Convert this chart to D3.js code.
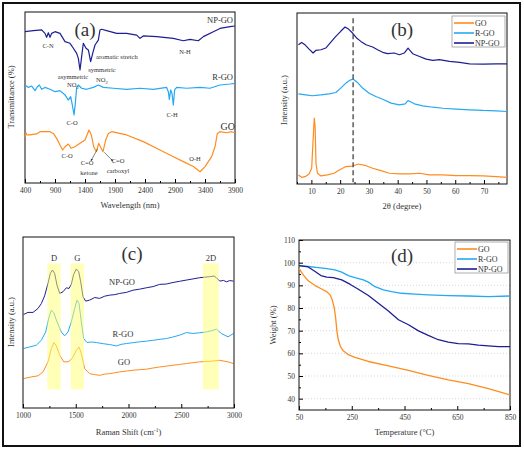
<!DOCTYPE html>
<html><head><meta charset="utf-8">
<script src="https://cdn.jsdelivr.net/npm/d3@7"></script>
<style>body{margin:0;background:#fff}svg{display:block}text{font-family:"Liberation Serif","Times New Roman",serif;fill:#333}</style>
</head><body><svg id="c" width="524" height="450"></svg>
<script>
// ---------- DATA ----------
const seriesNames = ["GO", "R-GO", "NP-GO"];
const colors = {"GO":"#ff8c1e","R-GO":"#25a9f2","NP-GO":"#1d1f91"};

// (a) FTIR : wavelength, transmittance (arb.)
const ftirNP = [[400,88.5],[539,89.1],[678,89.5],[733,87.5],[761,85.2],[789,87.9],[817,85.2],[844,87.5],[900,88.5],[983,87.5],[1067,82.7],[1150,81.7],[1206,78.8],[1261,75.8],[1289,72.9],[1317,66.1],[1344,73.9],[1372,81.7],[1417,78.8],[1456,77.8],[1494,71.0],[1528,75.8],[1567,80.7],[1622,83.6],[1650,89.5],[1678,89.9],[1761,89.1],[1928,87.5],[2094,87.5],[2261,86.5],[2317,84.6],[2372,86.0],[2594,85.6],[2872,84.6],[3039,83.2],[3150,84.0],[3289,83.2],[3372,85.6],[3539,88.5],[3650,90.4],[3817,91.4],[3900,91.8]];
const ftirR = [[400,57.3],[456,55.9],[511,56.7],[567,54.0],[606,56.3],[639,57.3],[678,54.8],[733,55.9],[817,54.8],[900,53.4],[983,54.0],[1067,51.5],[1122,48.5],[1161,50.5],[1194,44.6],[1217,39.8],[1239,46.6],[1261,55.9],[1289,57.3],[1344,55.4],[1428,54.8],[1539,55.9],[1622,57.3],[1706,55.9],[1872,55.4],[2094,54.8],[2317,55.4],[2539,54.8],[2761,55.9],[2789,53.4],[2806,48.9],[2828,54.4],[2850,52.4],[2872,45.6],[2894,54.4],[2928,55.9],[3094,55.4],[3317,55.9],[3483,55.4],[3650,57.3],[3817,57.9],[3900,58.3]];
const ftirGO = [[400,27.1],[417,29.4],[428,28.1],[483,28.1],[594,28.7],[650,30.0],[817,30.0],[872,29.0],[928,26.1],[983,22.2],[1028,19.3],[1067,21.2],[1122,22.8],[1167,20.3],[1233,21.2],[1317,23.2],[1400,25.1],[1467,31.0],[1506,28.1],[1545,21.2],[1589,18.3],[1628,23.2],[1656,21.2],[1700,18.3],[1745,25.1],[1789,29.0],[1844,30.0],[2094,28.1],[2372,24.2],[2650,19.3],[2872,15.4],[3039,12.5],[3206,9.6],[3317,6.6],[3400,9.6],[3511,15.4],[3567,21.2],[3606,29.0],[3650,30.0],[3761,29.4],[3844,30.0],[3900,29.4]];
const ftirTicks = [400,900,1400,1900,2400,2900,3400,3900];

// (b) XRD : 2theta, intensity (arb.)
const xrdNP = [[5.5,81.4],[6.6,82.8],[7.8,81.4],[9.2,78.9],[10.6,76.6],[11.5,78.1],[13.3,78.5],[15.0,79.5],[16.7,82.8],[18.5,86.3],[20.2,89.3],[21.7,91.8],[22.9,90.6],[24.3,88.3],[25.7,85.4],[27.2,83.4],[29.0,81.4],[31.3,80.1],[33.0,78.5],[34.8,77.0],[36.5,76.2],[38.8,76.6],[40.6,75.6],[42.3,76.6],[43.6,79.5],[45.2,76.2],[47.6,74.6],[49.9,73.0],[52.2,72.3],[54.5,72.7],[58.0,71.7],[61.5,71.1],[65.0,70.3],[69.7,70.1],[74.3,70.3],[78.0,70.3]];
const xrdR = [[5.5,52.7],[8.0,52.1],[10.3,51.6],[13.3,52.1],[16.2,52.7],[18.5,53.5],[20.2,56.1],[22.0,59.0],[23.7,60.9],[24.6,61.3],[26.0,59.4],[27.8,56.1],[30.1,53.1],[32.4,51.2],[34.8,49.6],[37.7,47.3],[40.6,46.3],[42.6,46.9],[43.6,48.8],[45.8,46.9],[48.7,45.7],[52.2,44.9],[55.7,44.3],[60.3,43.8],[65.0,43.4],[69.7,43.0],[74.3,42.8],[78.0,42.4]];
const xrdGO = [[5.5,5.3],[6.6,3.9],[7.8,4.3],[9.2,5.9],[10.1,9.2],[10.6,25.8],[11.0,38.5],[11.3,33.6],[11.6,12.1],[12.1,6.3],[13.3,4.7],[15.6,5.3],[17.9,6.3],[19.7,8.2],[22.0,10.2],[24.3,10.5],[26.3,11.7],[29.0,10.7],[31.3,9.2],[34.2,7.8],[37.1,6.3],[40.6,5.9],[44.1,5.9],[47.6,6.3],[51.0,5.3],[55.7,5.3],[60.3,4.9],[65.0,4.9],[69.7,4.7],[74.3,4.3],[78.0,3.9]];
const xrdTicks = [10,20,30,40,50,60,70];
const xrdDashed = 24.5;

// (c) Raman : shift, intensity (arb.)
const ramanNP = [[1006,54.7],[1047,55.9],[1095,55.9],[1142,58.2],[1174,61.1],[1205,65.6],[1237,72.9],[1259,78.7],[1280,80.7],[1300,78.7],[1322,71.9],[1348,67.0],[1379,68.0],[1411,70.3],[1436,69.9],[1458,72.3],[1480,78.1],[1506,81.3],[1528,79.7],[1547,73.8],[1569,65.0],[1594,62.5],[1632,63.1],[1680,64.6],[1727,64.1],[1775,65.4],[1822,66.0],[1870,66.3],[1916,67.0],[1980,67.6],[2043,68.9],[2106,69.5],[2169,70.3],[2233,71.0],[2296,72.3],[2359,72.5],[2422,73.4],[2485,74.1],[2548,74.8],[2612,75.5],[2675,76.2],[2720,76.5],[2770,76.8],[2810,77.2],[2833,76.2],[2865,74.2],[2900,74.6],[2928,73.8],[2960,74.5],[2995,74.2]];
const ramanR = [[1006,34.8],[1063,35.7],[1126,36.7],[1174,39.6],[1215,44.5],[1247,53.3],[1269,57.2],[1291,55.9],[1322,50.4],[1363,44.5],[1395,42.2],[1427,44.5],[1458,50.4],[1490,58.2],[1512,63.1],[1531,61.1],[1553,50.4],[1575,40.6],[1607,38.3],[1650,38.6],[1695,38.3],[1760,37.6],[1822,37.1],[1885,36.3],[1930,37.2],[1980,37.7],[2043,38.2],[2106,38.7],[2170,39.1],[2233,39.6],[2300,40.2],[2359,40.6],[2420,41.5],[2485,42.6],[2548,44.1],[2612,43.6],[2675,44.0],[2738,44.5],[2790,45.2],[2833,46.1],[2880,43.6],[2943,41.6],[2995,43.6]];
const ramanGO = [[1006,17.2],[1079,18.2],[1142,18.8],[1190,21.1],[1237,27.0],[1269,34.8],[1294,38.3],[1316,36.3],[1348,30.9],[1386,27.0],[1427,27.0],[1449,27.9],[1474,29.9],[1506,33.8],[1531,35.7],[1553,31.8],[1585,23.0],[1632,20.1],[1680,19.5],[1727,19.1],[1775,19.8],[1822,20.1],[1870,20.6],[1916,21.1],[1980,21.6],[2043,22.1],[2106,22.4],[2169,22.7],[2233,23.4],[2296,24.0],[2359,24.5],[2422,25.0],[2485,25.5],[2548,26.0],[2612,26.5],[2675,27.0],[2770,27.3],[2865,27.9],[2943,27.0],[2995,26.0]];
const ramanTicks = [1000,1500,2000,2500,3000];
const ramanBands = [{label:"D",x0:1231,x1:1357},{label:"G",x0:1452,x1:1578},{label:"2D",x0:2706,x1:2855}];

// (d) TGA : temperature, weight %
const tgaGO = [[50,97.5],[66,94.6],[85,92.0],[111,89.9],[136,88.4],[155,87.2],[168,85.8],[176,83.6],[184,79.9],[189,75.5],[194,69.6],[199,66.0],[207,63.0],[218,61.1],[237,59.4],[262,58.2],[313,56.4],[389,54.5],[465,52.5],[540,50.3],[616,48.3],[692,46.6],[768,44.4],[850,41.7]];
const tgaR = [[50,98.7],[85,98.3],[123,97.8],[149,97.5],[186,96.8],[212,95.8],[237,94.3],[262,93.4],[294,92.4],[313,91.4],[338,89.4],[370,88.0],[401,87.2],[439,86.5],[490,86.1],[540,85.8],[616,85.5],[692,85.3],[768,85.0],[850,85.3]];
const tgaNP = [[50,98.7],[85,98.1],[111,96.1],[133,94.3],[155,93.6],[180,93.4],[212,92.4],[243,90.5],[275,88.3],[313,85.5],[351,82.1],[389,78.7],[427,74.8],[465,72.6],[503,69.9],[540,67.9],[578,66.0],[616,64.9],[654,64.3],[692,64.2],[730,63.6],[768,63.3],[806,63.0],[850,63.0]];
const tgaXTicks = [50,250,450,650,850];
const tgaYTicks = [40,50,60,70,80,90,100,110];

// ---------- DRAW ----------
const svg = d3.select("#c");
const FONT = '"Liberation Serif","Times New Roman",serif';
const TXT = "#333";

function panel(box, xdom, ydom, xticks, xminor){
  const x = d3.scaleLinear().domain(xdom).range([box.l, box.r]);
  const y = d3.scaleLinear().domain(ydom).range([box.b, box.t]);
  const g = svg.append("g");
  const ax = g.append("g").attr("transform",`translate(0,${box.b})`)
    .call(d3.axisBottom(x).tickValues(xticks).tickSize(-4).tickPadding(5).tickFormat(d3.format("d")));
  ax.select(".domain").remove();
  ax.selectAll("text").attr("font-size",7.5).attr("font-family",FONT).attr("fill",TXT);
  const am = g.append("g").attr("transform",`translate(0,${box.b})`)
    .call(d3.axisBottom(x).tickValues(xminor).tickSize(-2).tickFormat(""));
  am.select(".domain").remove();
  return {x,y,g,box};
}
function frame(p){
  p.g.append("rect").attr("x",p.box.l).attr("y",p.box.t).attr("width",p.box.r-p.box.l).attr("height",p.box.b-p.box.t)
   .attr("fill","none").attr("stroke","#111").attr("stroke-width",1);
}
function line(p, data, color, w){
  p.g.append("path").datum(data).attr("fill","none").attr("stroke",color).attr("stroke-width",w||1.2)
    .attr("stroke-linejoin","round").attr("d", d3.line().x(d=>p.x(d[0])).y(d=>p.y(d[1])));
}
function txt(x,y,s,size,anchor){
  return svg.append("text").attr("x",x).attr("y",y).attr("font-size",size).attr("text-anchor",anchor||"start").text(s);
}
function ylabel(x,y,s){
  svg.append("text").attr("transform",`translate(${x},${y}) rotate(-90)`).attr("text-anchor","middle").attr("font-size",8.5).text(s);
}
function legend(p, x0, y0){
  const g = p.g;
  g.append("rect").attr("x",x0).attr("y",y0).attr("width",53).attr("height",31).attr("fill","#fff").attr("stroke","#999").attr("stroke-width",0.8);
  seriesNames.forEach((n,i)=>{
    const yy = y0+7+i*10;
    g.append("line").attr("x1",x0+2).attr("x2",x0+22).attr("y1",yy).attr("y2",yy).attr("stroke",colors[n]).attr("stroke-width",1.6);
    g.append("text").attr("x",x0+23).attr("y",yy+3).attr("font-size",8).text(n);
  });
}

// Panel (a)
const pa = panel({l:25,r:235,t:12,b:183},[400,3900],[0,100],ftirTicks,d3.range(650,3900,500));
frame(pa);
line(pa, ftirNP, colors["NP-GO"]); line(pa, ftirR, colors["R-GO"]); line(pa, ftirGO, colors["GO"]);
txt((25+235)/2,208,"Wavelength (nm)",8.5,"middle");
ylabel(14,97,"Transmittance (%)");
txt(85,36,"(a)",19,"middle");
const ann = "#445";
txt(48,48,"C-N",6.5,"middle").attr("fill",ann);
txt(96,59,"aromatic stretch",6.5,"start").attr("fill",ann);
txt(102,72,"symmetric",6.5,"middle").attr("fill",ann);
txt(73,79,"asymmetric",6.5,"middle").attr("fill",ann);
txt(67,87,"NO",6.5,"start").attr("fill",ann).append("tspan").attr("font-size",4.5).attr("dy",1.5).text("2");
txt(96,82,"NO",6.5,"start").attr("fill",ann).append("tspan").attr("font-size",4.5).attr("dy",1.5).text("2");
txt(185,54,"N-H",6.5,"middle").attr("fill",ann);
txt(233,23,"NP-GO",8.5,"end");
txt(233,80,"R-GO",8.5,"end");
txt(72,125,"C-O",6.5,"middle").attr("fill",ann);
txt(172,117,"C-H",6.5,"middle").attr("fill",ann);
txt(235,130,"GO",10,"end");
txt(67,158,"C-O",6.5,"middle").attr("fill",ann);
txt(87,165,"C=O",6.5,"middle").attr("fill",ann);
txt(89,175,"ketone",6.5,"middle").attr("fill",ann);
txt(118,163,"C=O",6.5,"middle").attr("fill",ann);
txt(118,173,"carboxyl",6.5,"middle").attr("fill",ann);
txt(195,161,"O-H",6.5,"middle").attr("fill",ann);
svg.append("defs").append("marker").attr("id","ah").attr("viewBox","0 0 6 6").attr("refX",5).attr("refY",3)
  .attr("markerWidth",4).attr("markerHeight",4).attr("orient","auto")
  .append("path").attr("d","M0,0L6,3L0,6Z").attr("fill","#333");
svg.append("line").attr("x1",pa.x(1610)).attr("y1",pa.y(20)).attr("x2",pa.x(1500)).attr("y2",pa.y(13)).attr("stroke","#333").attr("stroke-width",0.6).attr("marker-end","url(#ah)");
svg.append("line").attr("x1",pa.x(1720)).attr("y1",pa.y(18)).attr("x2",pa.x(1860)).attr("y2",pa.y(13)).attr("stroke","#333").attr("stroke-width",0.6).attr("marker-end","url(#ah)");

// Panel (b)
const pb = panel({l:297,r:507,t:13,b:184},[5,78],[0,100],xrdTicks,d3.range(5,78,10));
frame(pb);
line(pb, xrdNP, colors["NP-GO"]); line(pb, xrdR, colors["R-GO"]); line(pb, xrdGO, colors["GO"]);
pb.g.append("line").attr("x1",pb.x(xrdDashed)).attr("x2",pb.x(xrdDashed)).attr("y1",pb.y(97)).attr("y2",pb.y(1))
  .attr("stroke","#333").attr("stroke-width",1.2).attr("stroke-dasharray","5,3");
legend(pb,452,16);
txt(402,36,"(b)",19,"middle");
txt((297+507)/2,209,"2θ (degree)",8.5,"middle");
ylabel(287,100,"Intensity (a.u.)");

// Panel (c)
const pc = panel({l:23,r:234,t:237,b:408},[1000,3000],[0,100],ramanTicks,d3.range(1250,3000,500));
line(pc, ramanNP, colors["NP-GO"], 1); line(pc, ramanR, colors["R-GO"], 1); line(pc, ramanGO, colors["GO"], 1);
ramanBands.forEach(b=>{
  pc.g.append("rect").attr("x",pc.x(b.x0)).attr("width",pc.x(b.x1)-pc.x(b.x0)).attr("y",pc.y(84.6)).attr("height",pc.y(10.9)-pc.y(84.6))
    .attr("fill","#ffff70").attr("opacity",0.5);
  txt((pc.x(b.x0)+pc.x(b.x1))/2,261,b.label,8.5,"middle");
});
frame(pc);
txt(132,260,"(c)",19,"middle");
txt(122,285,"NP-GO",8.5,"middle");
txt(123,337,"R-GO",8.5,"middle");
txt(124,365,"GO",8.5,"middle");
const rl = txt((23+234)/2,435,"Raman Shift (cm",8.5,"middle");
rl.append("tspan").attr("font-size",5.5).attr("dy",-3).text("-1");
rl.append("tspan").attr("dy",3).text(")");
ylabel(14,322,"Intensity (a.u.)");

// Panel (d)
const pd = panel({l:299,r:510,t:240,b:410},[50,850],[35,110],tgaXTicks,d3.range(150,850,200));
tgaYTicks.forEach(v=>{ if(v<110) pd.g.append("line").attr("x1",pd.box.l).attr("x2",pd.box.r).attr("y1",pd.y(v)).attr("y2",pd.y(v))
   .attr("stroke","#ccc").attr("stroke-width",0.7).attr("stroke-dasharray","1,2"); });
const ay = pd.g.append("g").attr("transform",`translate(${pd.box.l},0)`)
  .call(d3.axisLeft(pd.y).tickValues(tgaYTicks).tickSize(-4).tickPadding(4).tickFormat(d3.format("d")));
ay.select(".domain").remove();
ay.selectAll("text").attr("font-size",7.5).attr("font-family",FONT).attr("fill",TXT);
const aym = pd.g.append("g").attr("transform",`translate(${pd.box.l},0)`)
  .call(d3.axisLeft(pd.y).tickValues(d3.range(45,110,10)).tickSize(-2).tickFormat(""));
aym.select(".domain").remove();
frame(pd);
line(pd, tgaGO, colors["GO"], 1.3); line(pd, tgaR, colors["R-GO"], 1.3); line(pd, tgaNP, colors["NP-GO"], 1.3);
legend(pd,455,242);
txt(402,262,"(d)",19,"middle");
txt((299+510)/2,435,"Temperature (°C)",8.5,"middle");
ylabel(276,325,"Weight (%)");

// Outer frame
svg.append("rect").attr("x",3).attr("y",3).attr("width",517).attr("height",443).attr("fill","none").attr("stroke","#111").attr("stroke-width",2);
</script></body></html>
